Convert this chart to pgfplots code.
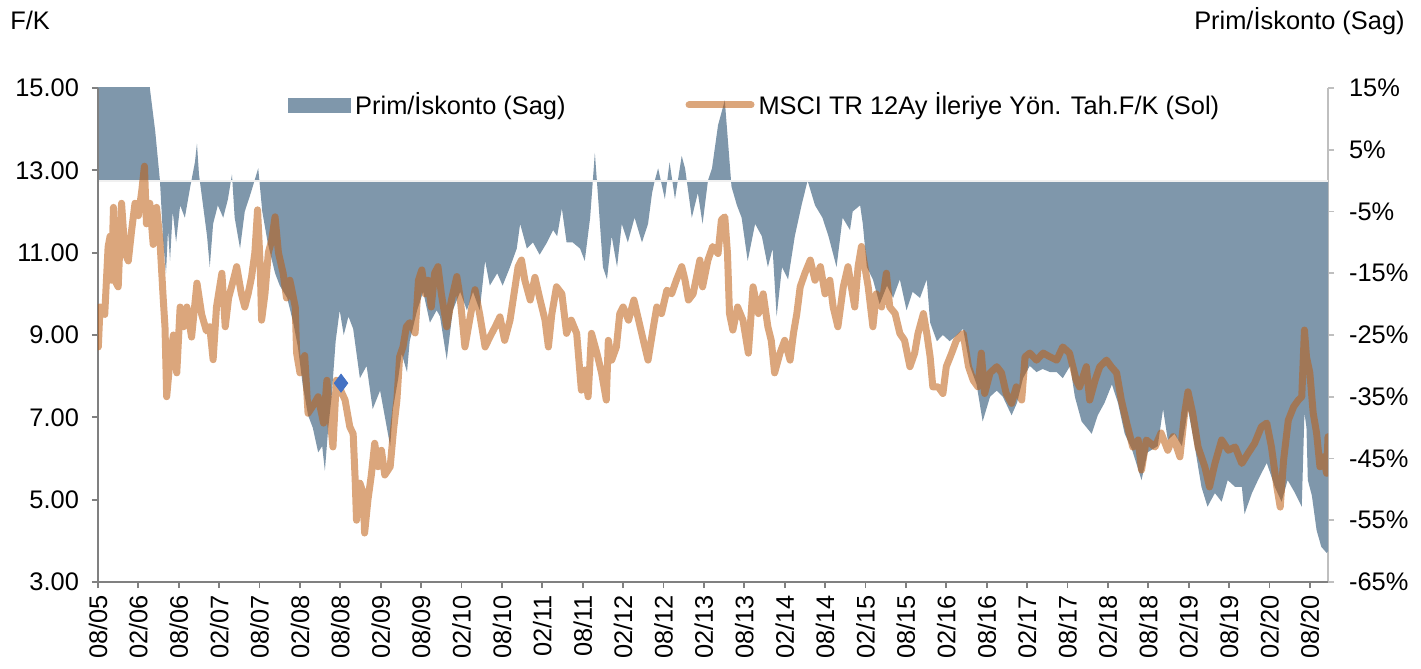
\documentclass[border=0pt]{standalone}
\usepackage{fontspec}
\setmainfont{Liberation Sans}
\usepackage{pgfplots}
\pgfplotsset{compat=1.18}

\definecolor{areablue}{RGB}{127,151,171}
\definecolor{pelin}{RGB}{190,93,17}
\definecolor{axgray}{RGB}{128,128,128}
\definecolor{axlight}{RGB}{191,191,191}
\definecolor{mkblue}{RGB}{68,114,196}
\newcommand\fsz{\fontsize{12.7}{15}\selectfont}

\pgfplotsset{
  base/.style={scale only axis, width=615pt, height=247pt,
    xmin=0, xmax=182.7, tick align=outside, major tick length=3pt,
    tick label style={font=\fsz}},
  linelegend/.style={legend image code/.code={\draw[##1] (0pt,0pt) -- (31pt,0pt);}},
}

\begin{document}
\begin{tikzpicture}
% right axis: premium / discount (area)
\begin{axis}[base, name=axr,
  ymin=-65, ymax=15,
  axis x line=none, axis y line*=right,
  ytick={-65,-55,...,15},
  yticklabels={-65\%,-55\%,-45\%,-35\%,-25\%,-15\%,-5\%,5\%,15\%},
  yticklabel shift=4pt,
  y axis line style={-, draw=axlight, line width=0.9pt},
  ytick style={draw=axlight, line width=0.9pt},
]
\addplot[fill=areablue, draw=none] coordinates {
(0,20) (7.5,20) (7.7,15) (8.5,8) (9.2,0) (9.7,-10) (10.1,-15) (10.4,-8) (10.7,-13) (11.1,-5)
(11.6,-10) (12.2,-4) (12.9,-6) (13.7,-1) (14.4,3) (14.7,6) (15.0,1) (15.6,-4) (16.2,-9) (16.6,-14)
(17.1,-7) (17.8,-4) (18.6,-6) (19.3,-3) (19.9,1) (20.3,-6) (21.1,-11) (21.8,-5) (22.7,-2) (23.8,2)
(24.4,-5) (25.2,-10) (26.3,-15) (27.0,-17) (28.1,-19) (29.0,-23) (29.7,-27) (30.4,-33) (31.2,-38) (31.9,-40)
(32.7,-44) (33.3,-43) (33.7,-47) (34.2,-40) (34.7,-35) (35.3,-26) (35.9,-21) (36.5,-25) (37.2,-22) (37.9,-24)
(38.9,-32) (39.9,-30) (40.8,-37) (41.9,-34) (42.9,-40) (43.4,-43) (43.8,-37) (44.6,-32) (45.1,-28) (45.9,-31)
(46.3,-26) (47.4,-21) (48.3,-18) (49.3,-23) (50.3,-21) (50.8,-22) (51.8,-29) (52.7,-21) (53.8,-18) (54.8,-21)
(55.7,-18) (56.7,-21) (57.5,-13) (58.2,-17) (59.3,-15) (60.1,-17) (61.2,-14) (62.2,-11) (62.7,-7) (63.7,-11)
(64.6,-10) (65.6,-12) (66.7,-10) (67.6,-8) (68.2,-9) (68.9,-4.5) (69.6,-10) (70.5,-10) (71.6,-11) (72.3,-13)
(73.1,-6) (73.8,4.5) (74.3,-3) (75.0,-14) (75.6,-16) (76.3,-9) (77.1,-14) (77.8,-7) (78.7,-10) (79.7,-6)
(80.8,-10) (81.7,-7) (82.3,-2) (82.7,0) (83.2,2) (84.2,-3) (84.9,3) (85.7,-3) (86.7,4) (87.2,2)
(88.2,-6) (89.1,-2) (89.8,-7) (90.6,0) (91.2,2) (92.1,9) (93.1,13) (93.6,6) (94.1,-1) (94.9,-4)
(95.6,-6) (96.5,-13) (97.6,-7) (98.6,-9) (99.5,-14) (100.2,-11) (100.8,-22) (101.6,-14) (102.5,-16) (103.5,-9)
(104.5,-4) (105.4,0) (106.5,-4) (107.6,-6) (108.5,-9) (109.7,-14) (110.6,-6) (111.7,-8) (112.1,-5) (113.2,-4)
(113.6,-7) (114.2,-14) (115.1,-16) (116.1,-20) (117.2,-17) (118.1,-19) (119.1,-16) (120.1,-21) (121.0,-18) (122.1,-19)
(123.1,-16) (123.6,-23) (124.6,-26) (125.5,-25) (126.5,-26) (127.6,-25) (128.5,-24) (129.5,-30) (130.5,-33) (131.4,-39)
(132.5,-35) (133.5,-34) (134.4,-35) (135.7,-38) (136.5,-36) (137.4,-32) (138.4,-30) (139.4,-31) (140.3,-30.5) (141.4,-31)
(142.4,-31) (143.3,-32) (144.4,-30) (145.1,-35) (146.1,-39) (147.6,-41) (148.5,-38) (149.5,-36) (150.6,-33) (151.5,-36)
(152.5,-41) (153.6,-43.6) (155.0,-48.5) (155.9,-44) (157.4,-43) (158.2,-37) (158.9,-42) (159.9,-41) (161.0,-43) (161.9,-37)
(162.9,-43) (163.9,-49.6) (164.8,-52.8) (165.9,-50.6) (166.9,-52) (167.8,-48.5) (168.9,-49.6) (169.9,-49.6) (170.3,-54) (171.4,-50.6)
(172.3,-48.5) (173.6,-45.7) (174.8,-49.6) (175.8,-52) (176.7,-48.5) (177.8,-50.6) (178.8,-52.8) (179.2,-37.6) (179.5,-40) (179.7,-48.5)
(180.3,-51) (181.0,-56.6) (181.7,-59.3) (182.5,-60.3) (182.7,-60)
} \closedcycle;
\addplot[draw=white!88!gray, line width=0.9pt] coordinates {(0,0) (182.7,0)};
\end{axis}

% left axis: forward P/E (line)
\begin{axis}[base, name=ax,
  ymin=3, ymax=15,
  axis x line*=bottom, axis y line*=left,
  ytick={3,5,...,15},
  yticklabels={3.00,5.00,7.00,9.00,11.00,13.00,15.00},
  yticklabel shift=3pt,
  xtick={0,6,...,180},
  xticklabels={08/05,02/06,08/06,02/07,08/07,02/08,08/08,02/09,08/09,02/10,08/10,02/11,08/11,02/12,08/12,02/13,
    08/13,02/14,08/14,02/15,08/15,02/16,08/16,02/17,08/17,02/18,08/18,02/19,08/19,02/20,08/20},
  xticklabel style={rotate=90, anchor=east},
  axis line style={-, draw=axgray, line width=0.9pt},
  tick style={draw=axgray, line width=0.9pt},
  legend columns=2,
  legend style={at={(axis description cs:0.1545,0.9656)}, anchor=west,
    draw=none, fill=none, font=\fsz, inner sep=0pt,
    /tikz/every even column/.append style={column sep=58pt}},
  legend cell align=left,
]
\addlegendimage{legend image code/.code={\fill[areablue] (0pt,-3.5pt) rectangle (31pt,3.5pt);}}
\addlegendentry{Prim/İskonto (Sag)}
\addplot[draw=pelin, opacity=0.55, line width=3.5pt, line cap=round, line join=round, linelegend] coordinates {
(0.05,8.71) (0.3,9.68) (1.0,9.5) (1.5,11.14) (1.8,11.4) (2.0,10.33) (2.3,12.1) (2.5,10.33) (3.0,10.17) (3.5,12.2)
(4.0,11.0) (4.5,10.8) (5.0,11.55) (5.5,12.2) (6.0,11.9) (6.5,12.5) (6.9,13.1) (7.2,11.7) (7.7,12.2) (8.2,11.2)
(8.7,12.1) (9.2,11.3) (9.7,9.85) (9.95,9.2) (10.2,7.5) (10.7,8.4) (11.2,9.0) (11.7,8.08) (12.2,9.68) (12.7,9.2)
(13.2,9.68) (13.9,8.95) (14.7,10.26) (15.4,9.5) (16.1,9.1) (16.6,9.2) (17.1,8.4) (17.6,9.68) (18.4,10.5) (18.9,9.2)
(19.4,9.9) (20.1,10.33) (20.6,10.66) (21.3,10.0) (21.8,9.68) (22.3,10.0) (22.8,10.4) (23.3,11.0) (23.7,12.04) (24.1,10.66)
(24.3,9.36) (24.8,10.0) (25.3,11.0) (25.8,11.3) (26.3,11.87) (26.8,11.0) (27.5,10.5) (28.0,9.9) (28.5,10.33) (29.3,9.68)
(29.5,8.56) (30.0,8.08) (30.7,8.5) (31.2,7.1) (32.0,7.3) (32.7,7.5) (33.5,6.86) (34.0,7.9) (34.5,6.95) (34.9,6.28)
(35.4,7.9) (36.2,7.6) (36.7,7.42) (37.4,6.77) (37.9,6.6) (38.2,5.48) (38.4,4.5) (38.9,5.4) (39.4,5.16) (39.6,4.19)
(40.1,5.0) (40.6,5.6) (41.1,6.37) (41.6,5.8) (42.1,6.2) (42.6,5.6) (43.4,5.8) (43.9,6.7) (44.4,7.42) (44.8,8.47)
(45.3,8.71) (45.8,9.2) (46.3,9.3) (47.1,9.05) (47.6,10.33) (48.1,10.58) (48.6,10.0) (49.0,10.33) (49.5,9.68) (50.0,10.5)
(50.5,10.66) (51.0,10.0) (51.8,9.2) (52.5,9.85) (53.3,10.42) (53.8,9.9) (54.5,8.71) (55.2,9.36) (56.0,10.1) (56.7,9.5)
(57.5,8.71) (58.2,8.95) (59.0,9.2) (59.7,9.44) (60.4,8.87) (61.2,9.36) (61.7,9.9) (62.4,10.66) (62.9,10.82) (63.4,10.33)
(64.2,9.85) (64.9,10.4) (65.6,9.9) (66.4,9.36) (66.9,8.71) (67.4,9.5) (68.1,10.17) (68.9,10.0) (69.6,9.04) (70.3,9.36)
(71.1,9.04) (71.8,7.66) (72.3,8.15) (72.8,7.5) (73.3,9.04) (74.1,8.56) (74.8,8.08) (75.5,7.42) (75.8,8.87) (76.3,8.39)
(77.0,8.71) (77.5,9.52) (78.0,9.68) (78.8,9.36) (79.6,9.85) (80.3,9.36) (81.0,8.87) (81.7,8.39) (82.5,9.2) (83.0,9.68)
(83.7,9.52) (84.5,10.09) (85.2,10.0) (85.9,10.33) (86.7,10.66) (87.2,10.33) (87.7,9.85) (88.4,10.0) (89.4,10.82) (89.8,10.17)
(90.6,10.82) (91.3,11.15) (92.1,10.98) (92.6,11.8) (93.1,11.87) (93.5,10.98) (93.8,9.52) (94.3,9.12) (95.0,9.68) (95.8,9.36)
(96.6,8.56) (97.3,10.17) (98.1,9.52) (98.8,10.0) (99.5,9.2) (100.0,8.87) (100.5,8.08) (101.3,8.56) (102.0,8.87) (102.8,8.39)
(103.3,9.04) (103.8,9.52) (104.3,10.17) (105.0,10.5) (105.8,10.82) (106.5,10.33) (107.3,10.66) (108.0,10.0) (108.7,10.33) (109.2,9.68)
(109.9,9.2) (110.7,10.17) (111.4,10.66) (111.9,10.17) (112.4,9.68) (112.9,10.66) (113.4,11.15) (113.9,10.66) (114.4,10.17) (115.1,9.2)
(115.6,10.0) (116.4,9.68) (117.1,10.5) (117.6,9.68) (118.4,9.52) (119.1,9.04) (119.8,8.87) (120.6,8.23) (121.3,8.56) (121.8,9.04)
(122.6,9.52) (123.1,9.04) (123.6,8.47) (124.0,7.74) (124.8,7.74) (125.5,7.58) (126.0,8.23) (126.8,8.56) (127.5,8.87) (128.5,9.04)
(129.3,8.23) (130.0,7.9) (130.7,7.74) (131.2,8.56) (131.7,7.58) (132.5,8.08) (133.5,8.23) (134.2,8.08) (134.9,7.58) (135.7,7.34)
(136.4,7.74) (137.2,7.42) (137.7,8.47) (138.4,8.56) (139.4,8.39) (140.4,8.56) (141.4,8.47) (142.4,8.39) (143.3,8.71) (144.3,8.56)
(145.3,7.9) (145.8,7.74) (146.8,8.23) (147.3,7.42) (148.1,7.9) (148.8,8.23) (149.8,8.39) (150.5,8.23) (151.3,8.08) (152.0,7.42)
(152.8,6.86) (153.7,6.28) (154.5,6.45) (155.0,5.72) (155.7,6.45) (157.0,6.28) (157.9,6.62) (158.9,6.2) (159.7,6.53) (160.7,6.04)
(161.4,7.1) (161.9,7.62) (162.6,7.1) (163.4,6.28) (164.4,5.8) (165.1,5.31) (165.9,5.88) (166.9,6.45) (167.9,6.2) (168.9,6.28)
(169.9,5.88) (170.8,6.12) (171.8,6.37) (172.8,6.77) (173.6,6.86) (174.3,6.28) (175.1,5.31) (175.6,4.82) (176.1,5.96) (176.8,6.93)
(177.6,7.26) (178.3,7.42) (178.8,7.5) (179.2,9.12) (179.5,8.47) (180.0,8.08) (180.5,7.1) (181.0,6.62) (181.5,5.8) (182.0,6.04)
(182.5,5.64) (182.7,6.53)
};
\addlegendentry{MSCI TR 12Ay İleriye Yön. Tah.F/K (Sol)}
\addplot[forget plot, only marks, mark=diamond*, mark size=4.5pt, color=mkblue] coordinates {(36.1,7.83)};
\end{axis}

\node[anchor=base west, inner sep=0pt, font=\fsz] at ([xshift=-44pt,yshift=29pt]ax.north west) {F/K};
\node[anchor=base east, inner sep=0pt, font=\fsz] at ([xshift=38.5pt,yshift=29pt]ax.north east) {Prim/İskonto (Sag)};

\pgfresetboundingbox
\path ([xshift=-49pt,yshift=-43pt]ax.south west) rectangle ([xshift=46.5pt,yshift=44pt]ax.north east);
\end{tikzpicture}
\end{document}
